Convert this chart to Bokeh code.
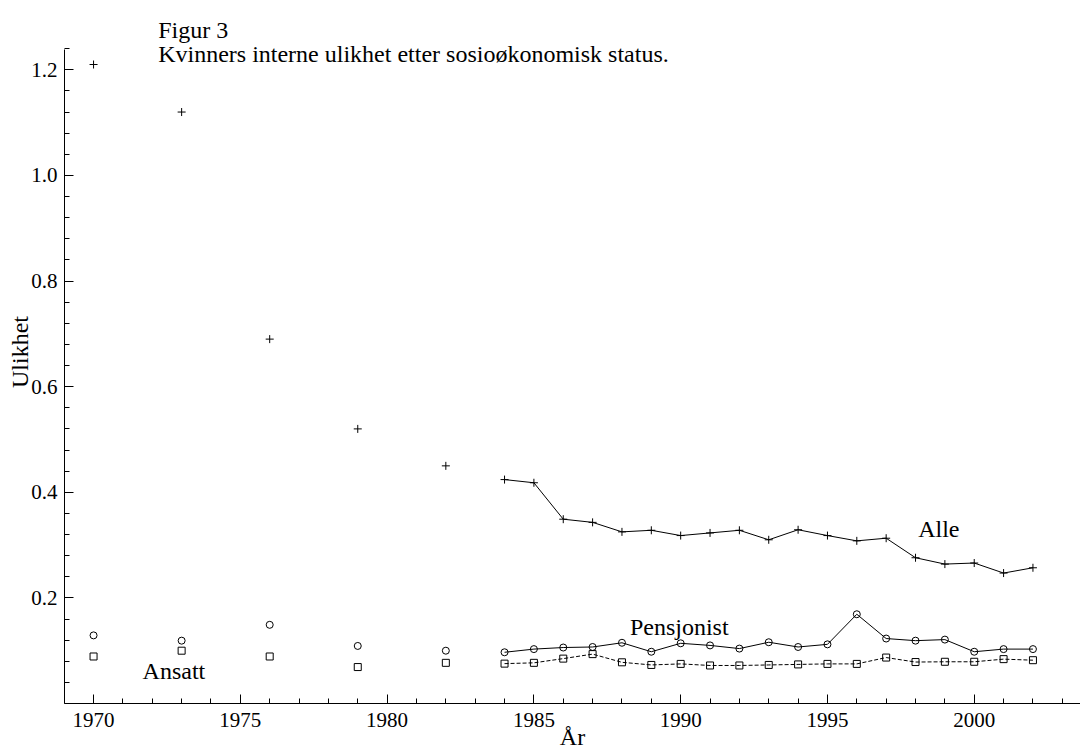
from bokeh.plotting import figure
from bokeh.models import Range1d, FixedTicker, Label, ColumnDataSource, PrintfTickFormatter
from bokeh.embed import file_html
from bokeh.resources import INLINE

FONT = "Liberation Serif"

# ---- data ----
years_early = [1970, 1973, 1976, 1979, 1982]
years_late = list(range(1984, 2003))

alle_early = [1.21, 1.12, 0.69, 0.52, 0.45]
alle_late = [0.424, 0.418, 0.349, 0.343, 0.325, 0.328, 0.318, 0.323, 0.328, 0.310,
             0.329, 0.318, 0.308, 0.313, 0.276, 0.264, 0.266, 0.247, 0.257]

pensjonist_early = [0.129, 0.119, 0.149, 0.109, 0.100]
pensjonist_late = [0.097, 0.103, 0.106, 0.107, 0.115, 0.098, 0.114, 0.110, 0.104, 0.116,
                   0.107, 0.112, 0.169, 0.123, 0.119, 0.121, 0.098, 0.103, 0.103]

ansatt_early = [0.089, 0.100, 0.089, 0.069, 0.077]
ansatt_late = [0.0755, 0.077, 0.085, 0.0935, 0.078, 0.073, 0.075, 0.072, 0.072, 0.073,
               0.074, 0.075, 0.075, 0.087, 0.0785, 0.079, 0.079, 0.084, 0.082]

x_major = [1970, 1975, 1980, 1985, 1990, 1995, 2000]
x_minor = list(range(1969, 2004))
y_major = [0.2, 0.4, 0.6, 0.8, 1.0, 1.2]
y_minor = [round(0.04 * i, 2) for i in range(0, 32)]
y_axis_extent = (0.0, 1.2384)

title_lines = ["Figur 3", "Kvinners interne ulikhet etter sosioøkonomisk status."]
series_labels = ["Alle", "Pensjonist", "Ansatt"]

# ---- figure ----
p = figure(width=1080, height=752, output_backend="svg", toolbar_location=None,
           x_range=Range1d(1969.01, 2003.62), y_range=Range1d(0.0, 1.3312),
           min_border_left=64, min_border_right=0, min_border_top=0, min_border_bottom=49)
p.outline_line_color = None
p.grid.visible = False
p.background_fill_color = "white"
p.border_fill_color = "white"

early = ColumnDataSource(dict(x=years_early, a=alle_early, p=pensjonist_early, s=ansatt_early))
late = ColumnDataSource(dict(x=years_late, a=alle_late, p=pensjonist_late, s=ansatt_late))

for src in (early, late):
    p.scatter("x", "a", source=src, marker="cross", size=8, line_color="black", line_width=1)
    p.scatter("x", "p", source=src, marker="circle", size=7, fill_color=None, line_color="black", line_width=1)
    p.scatter("x", "s", source=src, marker="square", size=7, fill_color=None, line_color="black", line_width=1)

p.line("x", "a", source=late, line_color="black", line_width=1)
p.line("x", "p", source=late, line_color="black", line_width=1)
p.line("x", "s", source=late, line_color="black", line_width=1, line_dash="4 2")

# axes
for ax in (p.xaxis[0], p.yaxis[0]):
    ax.axis_line_color = "black"
    ax.major_tick_line_color = "black"
    ax.minor_tick_line_color = "black"
    ax.major_tick_in = 9
    ax.major_tick_out = 0
    ax.minor_tick_in = 5
    ax.minor_tick_out = 0
    ax.major_label_text_font = FONT
    ax.major_label_text_font_size = "21px"
    ax.major_label_text_color = "black"
    ax.axis_label_text_font = FONT
    ax.axis_label_text_font_size = "24px"
    ax.axis_label_text_font_style = "normal"
    ax.axis_label_text_color = "black"

p.xaxis.ticker = FixedTicker(ticks=x_major, minor_ticks=x_minor)
p.yaxis.ticker = FixedTicker(ticks=y_major, minor_ticks=y_minor)
p.yaxis.formatter = PrintfTickFormatter(format="%.1f")
p.yaxis.bounds = y_axis_extent
p.xaxis.axis_label = "År"
p.yaxis.axis_label = "Ulikhet"
p.xaxis.major_label_standoff = 9
p.yaxis.major_label_standoff = 7
p.xaxis.axis_label_standoff = -6
p.yaxis.axis_label_standoff = -5

# title lines
p.add_layout(Label(x=1972.2, y=1.2757, text=title_lines[0], text_font=FONT,
                   text_font_size="24px", text_baseline="alphabetic", text_color="black"))
p.add_layout(Label(x=1972.2, y=1.2303, text=title_lines[1], text_font=FONT,
                   text_font_size="24px", text_baseline="alphabetic", text_color="black"))

# series annotations
ann_pos = [(1998.09, 0.330), (1988.27, 0.1454), (1971.67, 0.0621)]
for t, (xx, yy) in zip(series_labels, ann_pos):
    p.add_layout(Label(x=xx, y=yy, text=t, text_font=FONT, text_font_size="24px",
                       text_baseline="alphabetic", text_color="black"))

open("out.html", "w").write(file_html(p, INLINE))
